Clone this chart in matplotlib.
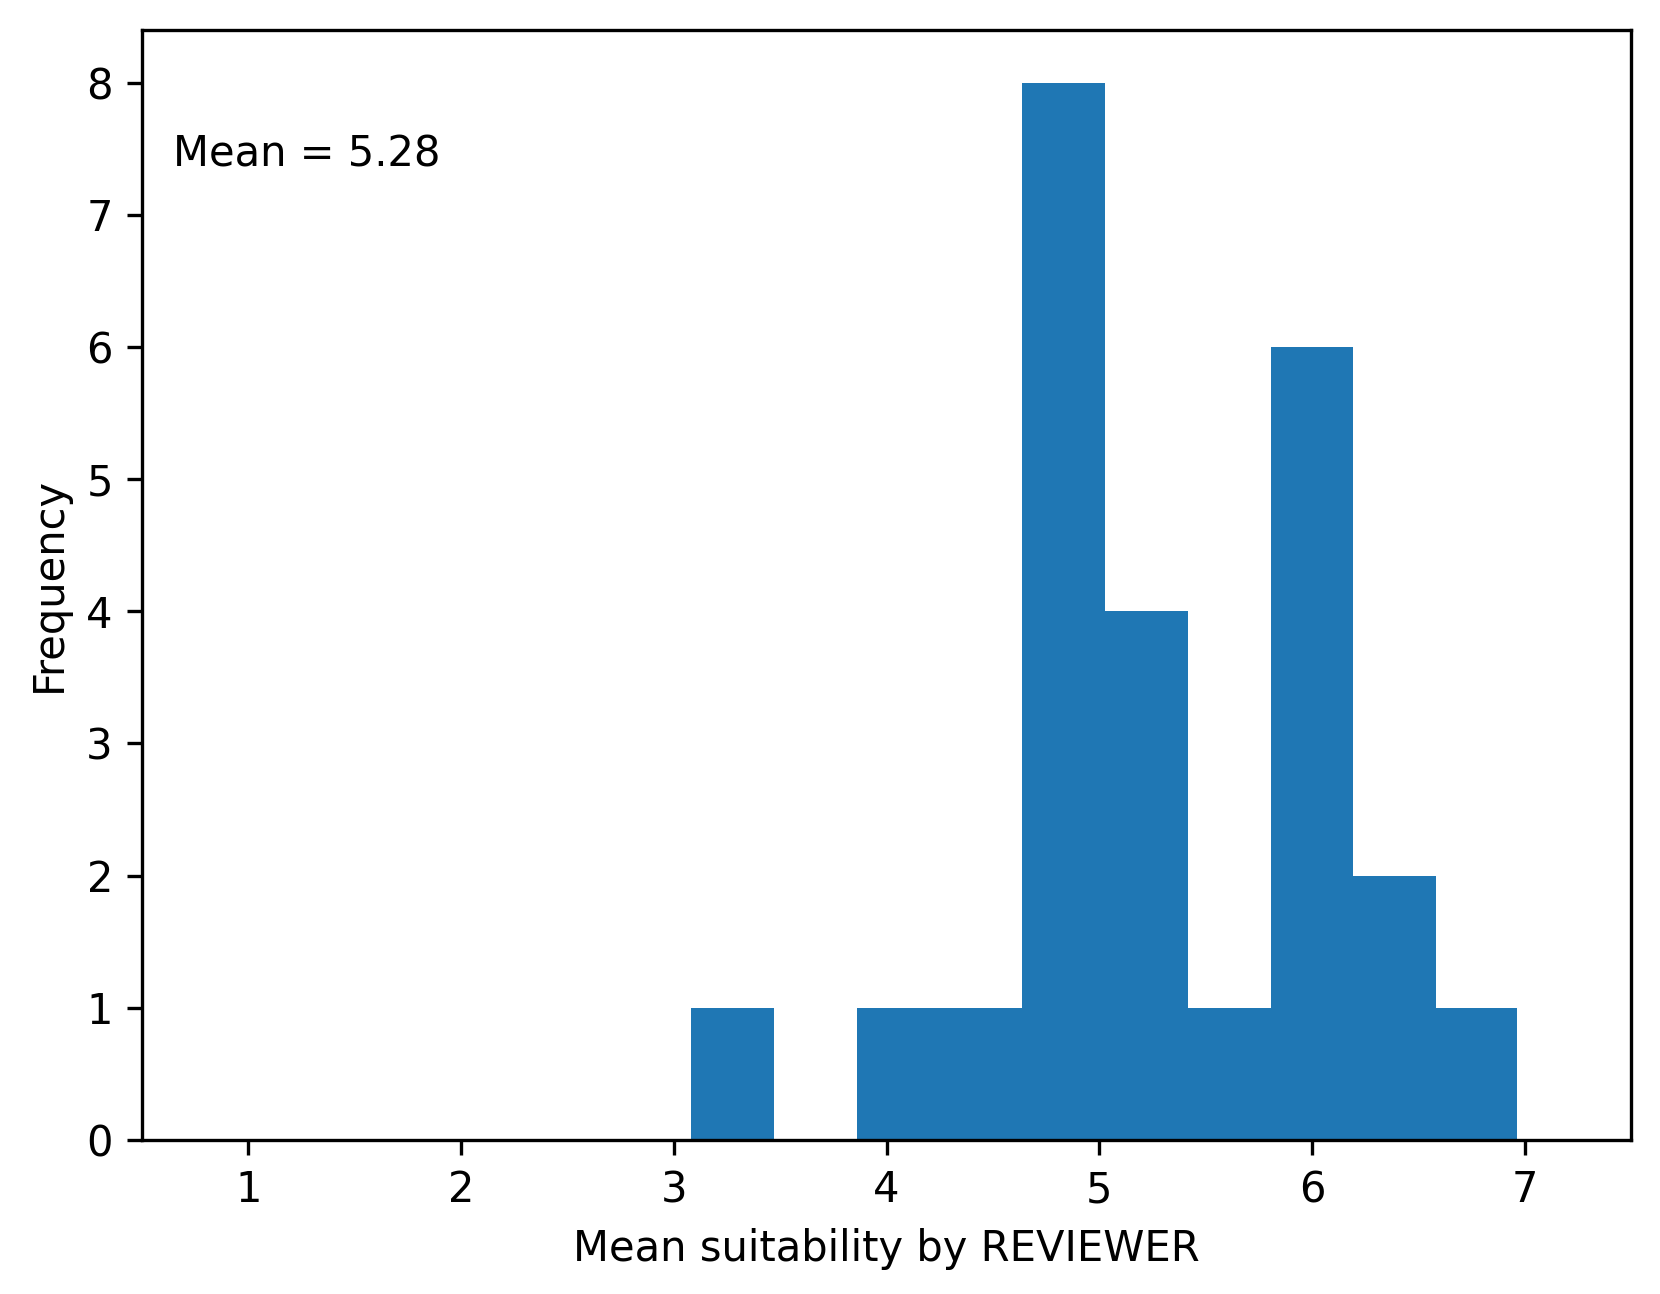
import matplotlib
matplotlib.use('Agg')
import matplotlib.pyplot as plt

# Histogram of mean suitability scores per reviewer
bin_edges = [3.083, 3.472, 3.861, 4.250, 4.639, 5.028, 5.417, 5.806, 6.194, 6.583, 6.965]
counts = [1, 0, 1, 1, 8, 4, 1, 6, 2, 1]
mean_value = 5.28
x_ticks = [1, 2, 3, 4, 5, 6, 7]

bin_centers = [(a + b) / 2 for a, b in zip(bin_edges[:-1], bin_edges[1:])]

fig = plt.figure(figsize=(1660 / 300, 1294 / 300), dpi=300)
ax = fig.add_axes([0.0856, 0.119, 0.8969, 0.858])

ax.hist(bin_centers, bins=bin_edges, weights=counts, color='#1f77b4')

ax.set_xlim(0.5, 7.5)
ax.set_xticks(x_ticks)
ax.set_xlabel('Mean suitability by REVIEWER')
ax.set_ylabel('Frequency')
ax.text(0.021, 0.888, f'Mean = {mean_value:.2f}', transform=ax.transAxes, va='center', ha='left')

fig.savefig('out.png', dpi=300)
